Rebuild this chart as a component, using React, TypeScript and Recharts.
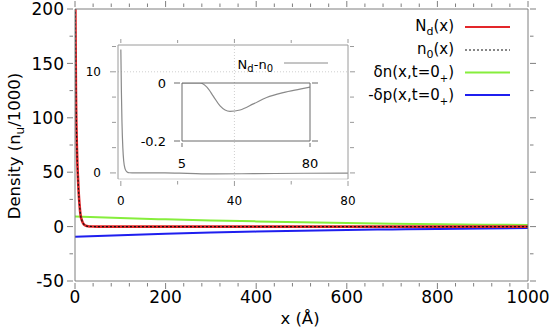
import React from "react";
import { Line, LineChart, ReferenceLine, XAxis, YAxis } from "recharts";

const FONT = "'DejaVu Sans', sans-serif";
const W = 555;
const H = 330;

// main panel: N_d(x), n_0(x) near the surface, dn/dp over the whole depth
const nearX = [0, 1, 2, 3, 4, 5, 6, 8, 10, 12.5, 15, 18, 22, 26, 32, 40, 50, 100, 300, 600, 1000];
const ndVals = [260, 190, 125, 95, 75, 61, 50, 32, 20, 10, 6, 3, 1.2, 0.5, 0.15, 0.05, 0, 0, 0, 0, 0];
const n0Vals = [260, 190, 125, 95, 75, 61, 50, 32, 20, 10, 6, 3, 1.2, 0.5, 0.15, 0.05, 0, 0, 0, 0, 0];
const farX = [0, 100, 200, 300, 400, 500, 600, 700, 800, 900, 1000];
const dnVals = [9.2, 7.8, 6.7, 5.7, 4.8, 4.0, 3.3, 2.7, 2.2, 1.8, 1.5];
const dpVals = [-9.4, -7.9, -6.6, -5.5, -4.6, -3.8, -3.1, -2.6, -2.1, -1.7, -1.4];

const mainXTicks = [0, 40, 80, 120, 160, 200, 240, 280, 320, 360, 400, 440, 480, 520, 560, 600, 640, 680, 720, 760, 800, 840, 880, 920, 960, 1000];
const mainXLabels = [0, 200, 400, 600, 800, 1000];
const mainYTicks = [-50, -25, 0, 25, 50, 75, 100, 125, 150, 175, 200];
const mainYLabels = [-50, 0, 50, 100, 150, 200];

// inset: N_d - n_0 for x in [0, 80]
const diffX = [0, 0.2, 0.4, 0.7, 1, 1.5, 2.2, 3, 5, 10, 15.5, 23.4, 33.1, 46.8, 64.3, 80];
const diffVals = [12.2, 8, 5, 2.5, 1.2, 0.4, 0.1, 0.02, 0, 0, 0, -0.046, -0.098, -0.072, -0.033, -0.014];
const insetXTicks = [0, 20, 40, 60, 80];
const insetXLabels = [0, 40, 80];
const insetYTicks = [0, 2.5, 5, 7.5, 10, 12.5];
const insetYLabels = [0, 10];

// nested inset: tail of N_d - n_0
const tailX = [5, 10, 15.5, 19.6, 23.4, 27.3, 33.1, 39, 46.8, 54.6, 64.3, 74.1, 80];
const tailVals = [0, 0, 0, -0.014, -0.046, -0.079, -0.098, -0.093, -0.072, -0.05, -0.033, -0.021, -0.014];
const tailXTicks = [5, 80];
const tailYTicks = [-0.2, 0];

const toRows = (xs: number[], ys: number[]) => xs.map((x, i) => ({ x, y: ys[i] }));

type Side = "bottom" | "top" | "left" | "right";
interface TickSpec {
  side: Side;
  majors: number[];
  big: number;
  small: number;
  color: string;
  labels?: boolean;
  fontSize?: number;
  gap?: number;
}

// draws its own tick mark (outward) plus the label; axis runs with tickSize 0
const makeTick = (s: TickSpec) => (props: any) => {
  const { x, y, payload } = props;
  const v = payload.value as number;
  const major = s.majors.includes(v);
  const len = major ? s.big : s.small;
  let x2 = x;
  let y2 = y;
  if (s.side === "bottom") y2 = y + len;
  if (s.side === "top") y2 = y - len;
  if (s.side === "left") x2 = x - len;
  if (s.side === "right") x2 = x + len;
  const fs = s.fontSize ?? 12;
  const gap = s.gap ?? 10;
  let label = null;
  if (s.labels && major) {
    label =
      s.side === "left" ? (
        <text x={x - gap} y={y} dy="0.365em" textAnchor="end" fontSize={fs} fontFamily={FONT} fill="#000">
          {String(v)}
        </text>
      ) : (
        <text x={x} y={y + gap} dy="0.365em" textAnchor="middle" fontSize={fs} fontFamily={FONT} fill="#000">
          {String(v)}
        </text>
      );
  }
  return (
    <g>
      <line x1={x} y1={y} x2={x2} y2={y2} stroke={s.color} strokeWidth={1} />
      {label}
    </g>
  );
};

const MAIN_AX = "#7f7f7f";
const INSET_AX = "#9a9a9a";
const TAIL_AX = "#6a6a6a";

function MainChart() {
  return (
    <LineChart width={W} height={H} margin={{ top: 0, right: 0, bottom: 0, left: 0 }}>
      <XAxis xAxisId="b" type="number" dataKey="x" domain={[0, 1000]} allowDataOverflow ticks={mainXTicks}
        interval={0} height={49} tickSize={0} tickLine={false} axisLine={{ stroke: MAIN_AX }}
        tick={makeTick({ side: "bottom", majors: mainXLabels, big: 6, small: 3.5, color: MAIN_AX, labels: true, fontSize: 17, gap: 14 })} />
      <XAxis xAxisId="t" orientation="top" type="number" dataKey="x" domain={[0, 1000]} allowDataOverflow
        ticks={mainXTicks} interval={0} height={9} tickSize={0} tickLine={false} axisLine={{ stroke: MAIN_AX }}
        tick={makeTick({ side: "top", majors: mainXLabels, big: 6, small: 3.5, color: MAIN_AX })} />
      <YAxis yAxisId="l" type="number" domain={[-50, 200]} allowDataOverflow ticks={mainYTicks} interval={0}
        width={75} tickSize={0} tickLine={false} axisLine={{ stroke: MAIN_AX }}
        tick={makeTick({ side: "left", majors: mainYLabels, big: 6, small: 3.5, color: MAIN_AX, labels: true, fontSize: 17, gap: 9 })} />
      <YAxis yAxisId="r" orientation="right" type="number" domain={[-50, 200]} allowDataOverflow ticks={mainYTicks}
        interval={0} width={27} tickSize={0} tickLine={false} axisLine={{ stroke: MAIN_AX }}
        tick={makeTick({ side: "right", majors: mainYLabels, big: 6, small: 3.5, color: MAIN_AX })} />
      <Line xAxisId="b" yAxisId="l" data={toRows(farX, dnVals)} dataKey="y" type="monotone" dot={false}
        stroke="#86ee3c" strokeWidth={2} isAnimationActive={false} />
      <Line xAxisId="b" yAxisId="l" data={toRows(farX, dpVals)} dataKey="y" type="monotone" dot={false}
        stroke="#1f1fef" strokeWidth={2} isAnimationActive={false} />
      <Line xAxisId="b" yAxisId="l" data={toRows(nearX, ndVals)} dataKey="y" type="monotone" dot={false}
        stroke="#e3262a" strokeWidth={2.6} isAnimationActive={false} />
      <Line xAxisId="b" yAxisId="l" data={toRows(nearX, n0Vals)} dataKey="y" type="monotone" dot={false}
        stroke="#111" strokeWidth={1.2} strokeDasharray="2 2" isAnimationActive={false} />
    </LineChart>
  );
}

function InsetChart() {
  return (
    <LineChart width={W} height={H} margin={{ top: 0, right: 0, bottom: 0, left: 0 }}>
      <XAxis xAxisId="b" type="number" dataKey="x" domain={[-1, 80]} allowDataOverflow ticks={insetXTicks}
        interval={0} height={151} tickSize={0} tickLine={false} axisLine={{ stroke: "#d0d0d0" }}
        tick={makeTick({ side: "bottom", majors: insetXLabels, big: 5, small: 3.5, color: INSET_AX, labels: true, fontSize: 12, gap: 20 })} />
      <XAxis xAxisId="t" orientation="top" type="number" dataKey="x" domain={[-1, 80]} allowDataOverflow
        ticks={insetXTicks} interval={0} height={45} tickSize={0} tickLine={false} axisLine={{ stroke: INSET_AX }}
        tick={makeTick({ side: "top", majors: insetXLabels, big: 4, small: 3, color: INSET_AX })} />
      <YAxis yAxisId="l" type="number" domain={[-0.6, 12.65]} allowDataOverflow ticks={insetYTicks} interval={0}
        width={118} tickSize={0} tickLine={false} axisLine={{ stroke: INSET_AX }}
        tick={makeTick({ side: "left", majors: insetYLabels, big: 6, small: 4, color: INSET_AX, labels: true, fontSize: 12, gap: 15 })} />
      <YAxis yAxisId="r" orientation="right" type="number" domain={[-0.6, 12.65]} allowDataOverflow ticks={insetYTicks}
        interval={0} width={207} tickSize={0} tickLine={false} axisLine={{ stroke: INSET_AX }}
        tick={makeTick({ side: "right", majors: insetYLabels, big: 5, small: 4, color: INSET_AX })} />
      <ReferenceLine xAxisId="b" yAxisId="l" y={10} stroke="#cfcfcf" strokeDasharray="1 2" />
      <ReferenceLine xAxisId="b" yAxisId="l" x={40} stroke="#cfcfcf" strokeDasharray="1 2" />
      <Line xAxisId="b" yAxisId="l" data={toRows(diffX, diffVals)} dataKey="y" type="monotone" dot={false}
        stroke="#8a8a8a" strokeWidth={1.2} isAnimationActive={false} />
    </LineChart>
  );
}

function TailChart() {
  return (
    <LineChart width={W} height={H} margin={{ top: 0, right: 0, bottom: 0, left: 0 }}>
      <XAxis xAxisId="b" type="number" dataKey="x" domain={[5, 80]} allowDataOverflow ticks={tailXTicks}
        interval={0} height={189} tickSize={0} tickLine={false} axisLine={{ stroke: TAIL_AX }}
        tick={makeTick({ side: "bottom", majors: tailXTicks, big: 4, small: 4, color: TAIL_AX, labels: true, fontSize: 13, gap: 20 })} />
      <XAxis xAxisId="t" orientation="top" type="number" dataKey="x" domain={[5, 80]} allowDataOverflow
        ticks={[]} height={83} tickSize={0} tickLine={false} axisLine={{ stroke: TAIL_AX }} tick={false} />
      <YAxis yAxisId="l" type="number" domain={[-0.2, 0]} allowDataOverflow ticks={tailYTicks} interval={0}
        width={182} tickSize={0} tickLine={false} axisLine={{ stroke: TAIL_AX }}
        tick={makeTick({ side: "left", majors: tailYTicks, big: 6, small: 6, color: TAIL_AX, labels: true, fontSize: 13, gap: 14 })} />
      <YAxis yAxisId="r" orientation="right" type="number" domain={[-0.2, 0]} allowDataOverflow ticks={tailYTicks}
        interval={0} width={245} tickSize={0} tickLine={false} axisLine={{ stroke: TAIL_AX }}
        tick={makeTick({ side: "right", majors: tailYTicks, big: 6, small: 6, color: TAIL_AX })} />
      <Line xAxisId="b" yAxisId="l" data={toRows(tailX, tailVals)} dataKey="y" type="monotone" dot={false}
        stroke="#8a8a8a" strokeWidth={1.2} isAnimationActive={false} />
    </LineChart>
  );
}

const legendRows = [
  { key: "nd", color: "#e3262a", dash: undefined, width: 2.2, y: 27 },
  { key: "n0", color: "#111", dash: "2 2", width: 1, y: 50 },
  { key: "dn", color: "#86ee3c", dash: undefined, width: 2, y: 72.5 },
  { key: "dp", color: "#1f1fef", dash: undefined, width: 2, y: 95 }
];

function Overlay() {
  return (
    <svg width={W} height={H} style={{ position: "absolute", left: 0, top: 0, pointerEvents: "none" }}
      fontFamily={FONT} fill="#000">
      {/* axis titles */}
      <text x={20} y={146} fontSize={16.5} textAnchor="middle" transform="rotate(-90 20 146)">
        Density (n<tspan dy={4} fontSize={12}>u</tspan><tspan dy={-4}>/1000)</tspan>
      </text>
      <text x={300} y={324} fontSize={16.5} textAnchor="middle">x (Å)</text>

      {/* main legend */}
      <text x={454} y={31} fontSize={15} textAnchor="end">
        N<tspan dy={4} fontSize={11}>d</tspan><tspan dy={-4}>(x)</tspan>
      </text>
      <text x={454} y={54} fontSize={15} textAnchor="end">
        n<tspan dy={4} fontSize={11}>0</tspan><tspan dy={-4}>(x)</tspan>
      </text>
      <text x={454} y={77} fontSize={15} textAnchor="end">
        δn(x,t=0<tspan dy={5} fontSize={10}>+</tspan><tspan dy={-5}>)</tspan>
      </text>
      <text x={454} y={99.5} fontSize={15} textAnchor="end">
        -δp(x,t=0<tspan dy={5} fontSize={10}>+</tspan><tspan dy={-5}>)</tspan>
      </text>
      {legendRows.map((r) => (
        <line key={r.key} x1={465} x2={510} y1={r.y} y2={r.y} stroke={r.color} strokeWidth={r.width}
          strokeDasharray={r.dash} />
      ))}

      {/* inset legend */}
      <text x={273} y={69} fontSize={13} textAnchor="end">
        N<tspan dy={3} fontSize={10}>d</tspan><tspan dy={-3}>-n</tspan><tspan dy={3} fontSize={10}>0</tspan>
      </text>
      <line x1={284} x2={328} y1={63} y2={63} stroke="#8a8a8a" strokeWidth={1} />
    </svg>
  );
}

export default function App() {
  return (
    <div style={{ position: "absolute", left: 0, top: 0, width: W, height: H, background: "#fff" }}>
      <div style={{ position: "absolute", left: 0, top: 0 }}>
        <MainChart />
      </div>
      <div style={{ position: "absolute", left: 0, top: 0 }}>
        <InsetChart />
      </div>
      <div style={{ position: "absolute", left: 0, top: 0 }}>
        <TailChart />
      </div>
      <Overlay />
    </div>
  );
}
